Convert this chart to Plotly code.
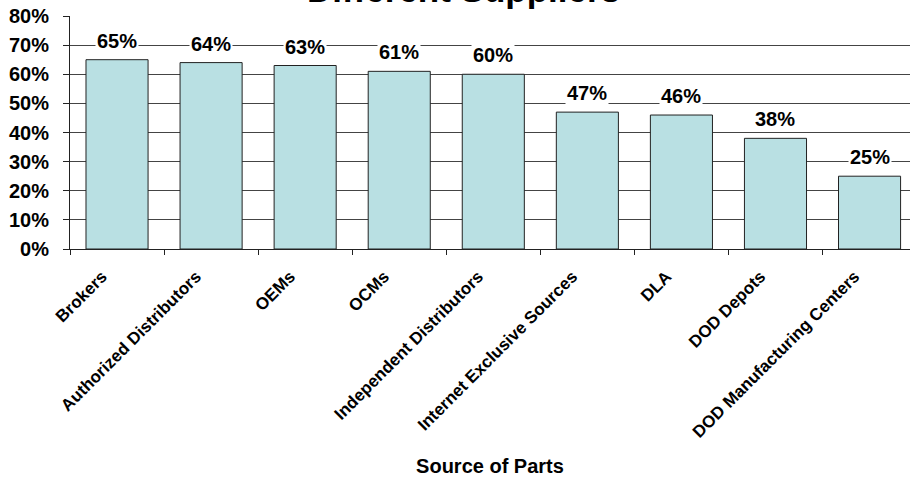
import plotly.graph_objects as go

categories = ["Brokers", "Authorized Distributors", "OEMs", "OCMs",
              "Independent Distributors", "Internet Exclusive Sources",
              "DLA", "DOD Depots", "DOD Manufacturing Centers"]
values = [0.65, 0.64, 0.63, 0.61, 0.60, 0.47, 0.46, 0.38, 0.25]
labels = ["65%", "64%", "63%", "61%", "60%", "47%", "46%", "38%", "25%"]
title_text = "Different Suppliers"
x_title = "Source of Parts"

FONT = "Liberation Sans, Arial, sans-serif"

fig = go.Figure()
fig.add_trace(go.Bar(
    x=categories, y=values,
    marker=dict(color="#B9E0E3", line=dict(color="#222222", width=1)),
    width=0.66,
    hoverinfo="skip",
))

for c, v, t in zip(categories, values, labels):
    fig.add_annotation(x=c, y=v, text="<b>%s</b>" % t, showarrow=False,
                       yanchor="bottom", yshift=6, bgcolor="white", borderpad=1,
                       font=dict(family=FONT, size=20, color="black"))

fig.add_annotation(xref="paper", yref="paper", x=0.469, y=1, yanchor="bottom",
                   yshift=5, text="<b>%s</b>" % title_text, showarrow=False,
                   font=dict(family=FONT, size=35, color="black"))

fig.update_layout(
    width=910, height=478,
    margin=dict(l=70, r=0, t=16, b=229),
    paper_bgcolor="white", plot_bgcolor="white",
    showlegend=False,
    font=dict(family=FONT, color="black"),
)
fig.update_xaxes(
    type="category",
    range=[-0.5, 8.43],
    automargin=False,
    tickangle=-45,
    tickson="boundaries",
    ticks="outside", ticklen=5, tickcolor="#222222",
    ticklabelshift=-15, ticklabelstandoff=10,
    tickfont=dict(family=FONT, size=17, color="black", weight="bold"),
    showline=True, linecolor="#222222", linewidth=1,
    showgrid=False,
    title=dict(text="<b>%s</b>" % x_title, font=dict(family=FONT, size=20, color="black"),
               standoff=18),
)
fig.update_yaxes(
    range=[0, 0.8], dtick=0.1, tickformat=".0%",
    automargin=False,
    ticks="outside", ticklen=6, tickcolor="#222222",
    ticklabelstandoff=10,
    tickfont=dict(family=FONT, size=20, color="black", weight="bold"),
    showline=True, linecolor="#222222", linewidth=1,
    showgrid=True, gridcolor="#444444", gridwidth=1,
    zeroline=False,
)

fig.write_html("out.html", config={"displayModeBar": False},
               post_script="document.body.style.margin='0';document.body.style.overflow='hidden';")
